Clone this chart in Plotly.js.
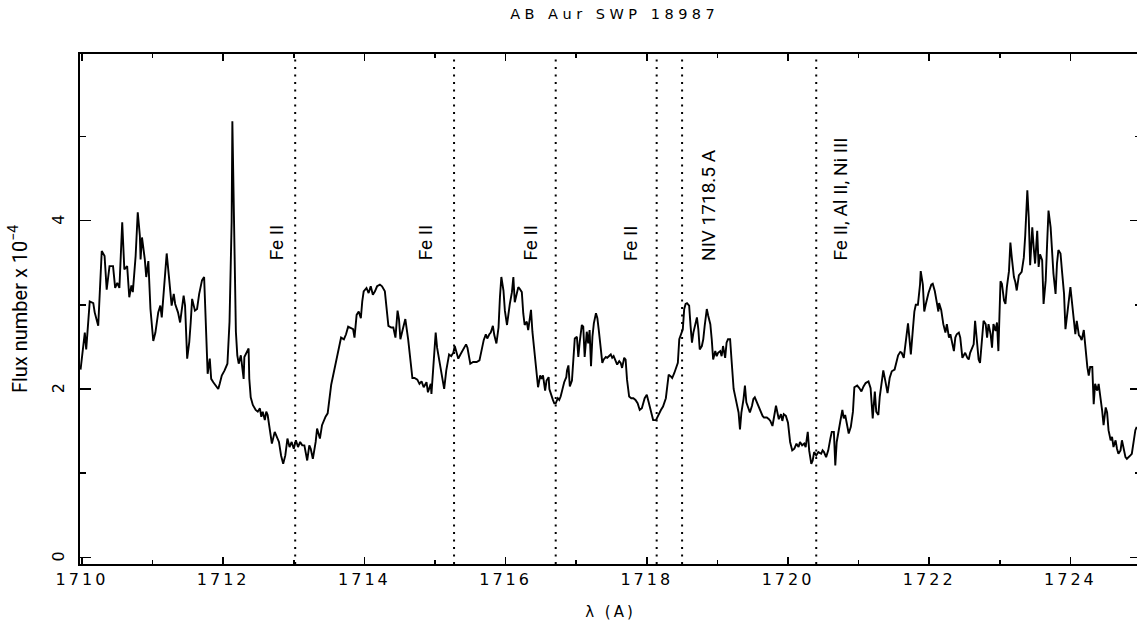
<!DOCTYPE html>
<html><head><meta charset="utf-8">
<script src="https://cdn.plot.ly/plotly-3.0.1.min.js"></script>
<style>
html,body{margin:0;padding:0;overflow:hidden;background:#fff;}
#chart{width:1145px;height:621px;}
.xtick text,.ytick text{letter-spacing:3px;}
.gtitle{letter-spacing:4.5px;}
.xtitle{letter-spacing:3px;}
</style></head><body><div id="chart"></div>
<script>
// Spectrum segment 1 (1710 - 1715 A)
const wavelengthA = [1709.98,1710.04,1710.06,1710.11,1710.16,1710.18,1710.23,1710.28,1710.32,1710.35,
1710.39,1710.44,1710.47,1710.50,1710.53,1710.57,1710.60,1710.64,1710.67,1710.70,
1710.72,1710.76,1710.79,1710.82,1710.83,1710.85,1710.89,1710.91,1710.94,1710.97,
1711.01,1711.04,1711.08,1711.11,1711.13,1711.16,1711.20,1711.23,1711.27,1711.30,
1711.32,1711.36,1711.39,1711.44,1711.46,1711.49,1711.52,1711.54,1711.56,1711.60,
1711.63,1711.66,1711.70,1711.73,1711.75,1711.78,1711.81,1711.83,1711.86,1711.89,
1711.93,1711.95,1711.98,1712.02,1712.06,1712.09,1712.12,1712.13,1712.15,1712.18,
1712.20,1712.22,1712.25,1712.27,1712.29,1712.30,1712.33,1712.36,1712.37,1712.39,
1712.42,1712.46,1712.49,1712.52,1712.54,1712.56,1712.59,1712.61,1712.63,1712.67,
1712.69,1712.73,1712.76,1712.79,1712.82,1712.85,1712.88,1712.91,1712.94,1712.97,
1713.00,1713.03,1713.06,1713.09,1713.12,1713.15,1713.19,1713.22,1713.24,1713.27,
1713.31,1713.33,1713.37,1713.40,1713.45,1713.48,1713.53,1713.58,1713.63,1713.67,
1713.71,1713.74,1713.77,1713.81,1713.84,1713.86,1713.89,1713.92,1713.95,1713.97,
1713.99,1714.03,1714.06,1714.09,1714.12,1714.15,1714.18,1714.22,1714.25,1714.29,
1714.31,1714.34,1714.38,1714.41,1714.44,1714.47,1714.49,1714.51,1714.55,1714.58,
1714.62,1714.65,1714.68,1714.71,1714.75,1714.78,1714.81,1714.84,1714.88,1714.90,
1714.94];
const fluxA = [2.23,2.67,2.47,3.04,3.02,2.91,2.75,3.64,3.58,3.18,
3.46,3.46,3.20,3.26,3.20,3.98,3.42,3.46,3.09,3.23,
3.15,3.58,4.10,3.82,3.54,3.80,3.54,3.33,3.52,2.95,
2.57,2.67,2.91,2.99,2.85,3.19,3.61,3.35,2.99,3.13,
3.01,2.91,2.79,3.11,2.99,2.36,2.56,2.79,3.07,2.93,
2.95,3.13,3.29,3.33,2.83,2.18,2.36,2.12,2.08,2.04,
2.00,2.06,2.16,2.22,2.30,2.80,3.99,5.18,4.11,2.68,
2.40,2.30,2.40,2.28,2.12,2.38,2.44,2.48,2.12,1.90,
1.81,1.75,1.73,1.77,1.67,1.73,1.63,1.73,1.69,1.49,
1.35,1.49,1.43,1.37,1.21,1.11,1.21,1.41,1.31,1.37,
1.29,1.39,1.31,1.37,1.33,1.33,1.15,1.33,1.29,1.17,
1.37,1.53,1.41,1.57,1.67,1.71,2.05,2.25,2.41,2.61,
2.59,2.65,2.74,2.72,2.71,2.61,2.88,2.92,2.84,3.04,
3.16,3.20,3.14,3.22,3.12,3.16,3.22,3.24,3.22,3.16,
3.02,2.75,2.73,2.73,2.61,2.93,2.83,2.59,2.73,2.83,
2.59,2.35,2.13,2.13,2.11,2.06,2.09,2.02,2.08,1.96,
2.06];

// Spectrum segment 2 (1715 - 1720 A)
const wavelengthB = [1714.95,1714.98,1715.01,1715.03,1715.06,1715.09,1715.13,1715.16,1715.20,1715.23,
1715.26,1715.28,1715.31,1715.33,1715.36,1715.40,1715.44,1715.46,1715.50,1715.54,
1715.59,1715.63,1715.66,1715.69,1715.72,1715.74,1715.77,1715.79,1715.82,1715.84,
1715.87,1715.90,1715.92,1715.94,1715.97,1715.99,1716.02,1716.04,1716.06,1716.09,
1716.11,1716.13,1716.16,1716.18,1716.20,1716.23,1716.25,1716.27,1716.30,1716.32,
1716.35,1716.36,1716.38,1716.41,1716.44,1716.46,1716.49,1716.51,1716.53,1716.56,
1716.58,1716.61,1716.62,1716.64,1716.67,1716.69,1716.71,1716.74,1716.76,1716.78,
1716.81,1716.83,1716.86,1716.87,1716.89,1716.91,1716.94,1716.96,1716.98,1717.01,
1717.03,1717.05,1717.08,1717.10,1717.12,1717.15,1717.17,1717.19,1717.21,1717.23,
1717.25,1717.28,1717.30,1717.32,1717.35,1717.37,1717.39,1717.42,1717.44,1717.46,
1717.49,1717.51,1717.53,1717.56,1717.58,1717.61,1717.63,1717.65,1717.68,1717.70,
1717.72,1717.75,1717.78,1717.81,1717.84,1717.87,1717.90,1717.93,1717.95,1717.97,
1718.00,1718.02,1718.04,1718.07,1718.09,1718.13,1718.16,1718.20,1718.23,1718.27,
1718.29,1718.31,1718.34,1718.36,1718.39,1718.41,1718.44,1718.46,1718.48,1718.51,
1718.53,1718.55,1718.57,1718.60,1718.62,1718.64,1718.66,1718.68,1718.71,1718.73,
1718.75,1718.78,1718.80,1718.82,1718.85,1718.87,1718.90,1718.92,1718.94,1718.97,
1718.99,1719.01,1719.04,1719.06,1719.08,1719.11,1719.13,1719.15,1719.18,1719.20,
1719.23,1719.25,1719.27,1719.30,1719.32,1719.34,1719.37,1719.39,1719.41,1719.44,
1719.46,1719.49,1719.51,1719.53,1719.56,1719.58,1719.60,1719.64,1719.66,1719.70,
1719.73,1719.75,1719.78,1719.80,1719.83,1719.85,1719.87,1719.90,1719.92];
const fluxB = [1.94,2.25,2.67,2.49,2.33,2.18,2.00,2.22,2.41,2.39,
2.43,2.51,2.41,2.36,2.41,2.47,2.53,2.49,2.30,2.32,
2.32,2.34,2.46,2.58,2.65,2.60,2.65,2.67,2.75,2.64,
2.54,2.73,3.09,3.33,3.17,2.93,2.76,2.91,3.01,3.15,
3.33,3.03,3.13,3.21,3.19,3.15,2.90,2.76,2.80,2.70,
2.88,2.94,2.68,2.46,2.24,2.02,2.16,2.12,2.16,1.98,
2.10,2.14,2.00,1.94,1.87,1.83,1.83,1.89,1.87,1.91,
2.02,2.08,2.14,2.22,2.28,2.03,2.10,2.30,2.60,2.62,
2.38,2.56,2.76,2.74,2.38,2.68,2.54,2.70,2.27,2.62,
2.78,2.90,2.84,2.70,2.50,2.31,2.35,2.38,2.37,2.39,
2.41,2.37,2.39,2.33,2.29,2.33,2.31,2.25,2.37,2.35,
2.11,1.91,1.89,1.89,1.87,1.83,1.75,1.77,1.83,1.89,
1.93,1.87,1.79,1.71,1.63,1.63,1.69,1.75,1.79,1.89,
2.03,2.17,2.15,2.13,2.19,2.25,2.31,2.59,2.65,2.71,
2.95,3.01,3.02,2.99,2.75,2.55,2.67,2.75,2.85,2.71,
2.47,2.51,2.59,2.75,2.95,2.87,2.77,2.59,2.35,2.45,
2.39,2.43,2.45,2.39,2.51,2.37,2.55,2.59,2.59,2.35,
2.00,1.92,1.84,1.72,1.52,1.72,1.88,2.04,1.84,1.76,
1.72,1.80,1.88,1.90,1.84,1.78,1.76,1.68,1.66,1.66,
1.64,1.62,1.56,1.68,1.80,1.72,1.64,1.70,1.62];

// Spectrum segment 3 (1720 - 1725 A)
const wavelengthC = [1719.94,1719.97,1720.00,1720.03,1720.06,1720.09,1720.12,1720.15,1720.17,1720.20,
1720.23,1720.25,1720.28,1720.30,1720.33,1720.35,1720.37,1720.40,1720.43,1720.47,
1720.49,1720.51,1720.54,1720.57,1720.60,1720.62,1720.65,1720.67,1720.69,1720.72,
1720.74,1720.77,1720.79,1720.81,1720.84,1720.86,1720.89,1720.92,1720.94,1720.98,
1721.01,1721.04,1721.07,1721.10,1721.14,1721.17,1721.20,1721.23,1721.25,1721.28,
1721.30,1721.32,1721.35,1721.38,1721.41,1721.44,1721.47,1721.51,1721.53,1721.56,
1721.59,1721.61,1721.64,1721.66,1721.69,1721.70,1721.72,1721.74,1721.77,1721.79,
1721.81,1721.84,1721.87,1721.88,1721.91,1721.93,1721.95,1721.99,1722.03,1722.05,
1722.08,1722.10,1722.13,1722.14,1722.17,1722.20,1722.23,1722.25,1722.28,1722.30,
1722.32,1722.35,1722.37,1722.39,1722.42,1722.44,1722.47,1722.49,1722.51,1722.54,
1722.56,1722.58,1722.61,1722.63,1722.65,1722.68,1722.70,1722.72,1722.75,1722.77,
1722.80,1722.82,1722.84,1722.87,1722.89,1722.91,1722.94,1722.96,1722.98,1723.01,
1723.03,1723.06,1723.08,1723.10,1723.13,1723.15,1723.17,1723.20,1723.22,1723.24,
1723.27,1723.29,1723.31,1723.34,1723.36,1723.39,1723.41,1723.43,1723.46,1723.48,
1723.50,1723.53,1723.55,1723.57,1723.60,1723.62,1723.65,1723.67,1723.69,1723.72,
1723.74,1723.76,1723.79,1723.81,1723.83,1723.86,1723.88,1723.91,1723.93,1723.95,
1723.98,1724.00,1724.02,1724.05,1724.07,1724.09,1724.12,1724.14,1724.16,1724.19,
1724.21,1724.24,1724.26,1724.28,1724.31,1724.33,1724.35,1724.38,1724.40,1724.42,
1724.45,1724.47,1724.50,1724.52,1724.54,1724.57,1724.59,1724.61,1724.64,1724.66,
1724.68,1724.71,1724.73,1724.75,1724.78,1724.80,1724.83,1724.85,1724.87,1724.90,1724.92,1724.94];
const fluxC = [1.70,1.68,1.60,1.37,1.27,1.29,1.35,1.31,1.37,1.33,
1.35,1.31,1.49,1.27,1.11,1.15,1.25,1.21,1.25,1.23,
1.27,1.25,1.19,1.27,1.41,1.49,1.49,1.09,1.37,1.49,
1.61,1.75,1.65,1.69,1.55,1.47,1.55,1.73,2.02,2.04,
2.01,1.97,2.03,2.07,2.09,2.01,1.65,1.97,1.73,1.69,
1.91,2.05,2.22,2.09,1.95,2.13,2.21,2.23,2.29,2.40,
2.44,2.43,2.37,2.52,2.72,2.78,2.60,2.41,2.72,2.92,
3.00,3.00,3.24,3.40,3.24,2.92,3.00,3.14,3.24,3.25,
3.16,3.04,2.92,3.02,2.94,2.77,2.67,2.77,2.61,2.65,
2.55,2.45,2.61,2.65,2.67,2.61,2.37,2.41,2.43,2.37,
2.35,2.43,2.49,2.53,2.81,2.53,2.35,2.31,2.57,2.81,
2.77,2.61,2.77,2.65,2.49,2.77,2.69,2.79,2.45,3.28,
3.25,3.05,3.01,3.21,3.40,3.74,3.56,3.33,3.27,3.17,
3.35,3.37,3.39,3.56,3.82,4.36,4.04,3.47,3.92,3.68,
3.49,3.88,3.45,3.60,3.53,3.01,3.29,3.72,4.12,3.92,
3.61,3.37,3.13,3.49,3.65,3.61,3.41,3.13,2.71,2.85,
3.05,3.21,3.05,2.77,2.65,2.81,2.64,2.62,2.58,2.70,
2.50,2.26,2.16,2.26,2.26,1.82,2.06,1.98,2.06,1.94,
1.74,1.57,1.78,1.72,1.51,1.39,1.43,1.31,1.39,1.29,
1.23,1.27,1.39,1.31,1.19,1.17,1.19,1.21,1.23,1.39,1.51,1.55];

// Line identifications
const lineWavelengths = [1713.02, 1715.27, 1716.71, 1718.14, 1718.50, 1720.40];
const labelTexts = ['Fe II', 'Fe II', 'Fe II', 'Fe II', 'NIV 1718.5 A', 'Fe II, Al II, Ni III'];
const labelWavelengths = [1712.75, 1714.86, 1716.35, 1717.76, 1718.87, 1720.74];
const labelBaseFlux = 3.5;

const xTickVals = [1710, 1712, 1714, 1716, 1718, 1720, 1722, 1724];
const yTickVals = [0, 2, 4];

const wavelength = wavelengthA.concat(wavelengthB, wavelengthC);
const flux = fluxA.concat(fluxB, fluxC);

const plotFont = 'DejaVu Sans, sans-serif';
const narrowFont = 'Roboto, "Liberation Sans", sans-serif';

const trace = {
  x: wavelength, y: flux, type: 'scatter', mode: 'lines',
  line: {color: '#000', width: 1.9}, hoverinfo: 'skip'
};

const shapes = lineWavelengths.map(w => ({
  type: 'line', xref: 'x', yref: 'paper', x0: w, x1: w, y0: 0, y1: 1,
  line: {color: '#000', width: 2, dash: '2px,5.5px'}
}));

const annotations = labelTexts.map((t, i) => ({
  x: labelWavelengths[i], y: labelBaseFlux, xref: 'x', yref: 'y',
  text: t, textangle: -90, showarrow: false,
  xanchor: 'center', yanchor: 'bottom',
  font: {family: narrowFont, size: 19, color: '#000'}
}));

const layout = {
  width: 1145, height: 621,
  margin: {l: 80, r: 4, t: 54, b: 57},
  paper_bgcolor: '#fff', plot_bgcolor: '#fff',
  showlegend: false,
  title: {
    text: 'AB Aur SWP 18987',
    font: {family: plotFont, size: 14.5, color: '#000'},
    xref: 'paper', x: 0.504, xanchor: 'center',
    yref: 'container', y: 1 - 14/621, yanchor: 'middle'
  },
  xaxis: {
    range: [1709.972, 1725.0],
    showgrid: false, zeroline: false,
    showline: true, linewidth: 2, linecolor: '#000', mirror: 'ticks',
    ticks: 'inside', ticklen: 7, tickwidth: 1.5, tickcolor: '#000',
    tickmode: 'array', tickvals: xTickVals,
    tickfont: {family: plotFont, size: 16, color: '#000'},
    minor: {dtick: 1, tick0: 1710, ticks: 'inside', ticklen: 4, tickwidth: 1.5, tickcolor: '#000', showgrid: false},
    title: {text: 'λ (A)', font: {family: plotFont, size: 15, color: '#000'}, standoff: 20}
  },
  yaxis: {
    range: [-0.08, 5.98],
    showgrid: false, zeroline: false,
    showline: true, linewidth: 2, linecolor: '#000', mirror: 'ticks',
    ticks: 'inside', ticklen: 11, tickwidth: 1.5, tickcolor: '#000',
    tickmode: 'array', tickvals: yTickVals, tickangle: -90,
    tickfont: {family: plotFont, size: 16, color: '#000'},
    ticklabelstandoff: 8,
    minor: {dtick: 1, tick0: 0, ticks: 'inside', ticklen: 6, tickwidth: 1.5, tickcolor: '#000', showgrid: false},
    title: {text: 'Flux number x 10<sup>−4</sup>', font: {family: narrowFont, size: 20, color: '#000'}, standoff: 16}
  },
  shapes: shapes,
  annotations: annotations
};

Plotly.newPlot('chart', [trace], layout, {staticPlot: true, displayModeBar: false});
</script></body></html>
